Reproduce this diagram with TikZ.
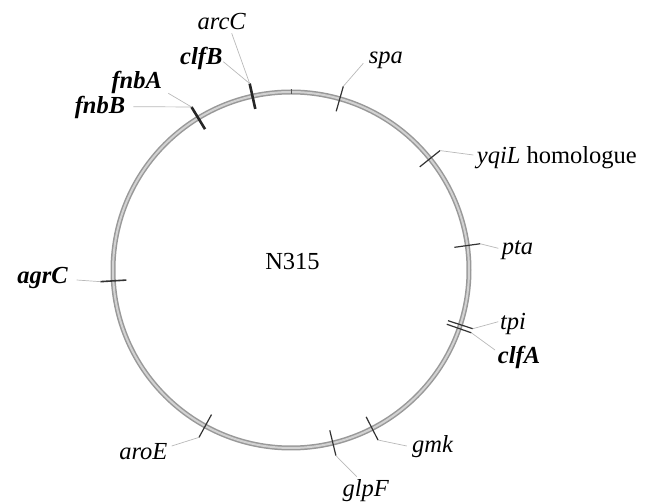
\documentclass[tikz,border=0pt]{standalone}
\usepackage{fontspec}
\setmainfont{Liberation Serif}
\begin{document}
\begin{tikzpicture}[x=1pt,y=1pt,
  lbl/.style={inner sep=0pt,anchor=base,font=\fontsize{24.5}{29}\selectfont\itshape},
  blbl/.style={lbl,font=\fontsize{24.5}{29}\selectfont\bfseries\itshape},
  leader/.style={draw=gray!55,line width=0.7pt},
  thintick/.style={draw=black!80,line width=1.2pt},
  boldtick/.style={draw=black!85,line width=2.6pt},
  midtick/.style={draw=black!80,line width=1.6pt}]
\useasboundingbox (0,0) rectangle (649,-502);
\coordinate (C) at (291,-270);
\begin{scope}[shift={(291,-270)}]
  % ring
  \draw[line width=5pt,gray!80] (0,0) circle (178);
  \draw[line width=2pt,gray!35] (0,0) circle (178);
  % origin mark
  \draw[draw=gray!70!black,line width=0.7pt] (90:175.5) -- (90:180.5);
  % ticks: inner / outer ends
  \foreach \n/\a in {clfB/102.5,fnb/121.4,spa/74.1,yqiL/38.7,pta/7.9,tpi/-17.9,clfA/-19.2,agrC/183.5,aroE/241.2,glpF/283.6,gmk/297.1}{
    \coordinate (i-\n) at (\a:165);
    \coordinate (o-\n) at (\a:191);
  }
  \draw[boldtick] (i-clfB) -- (o-clfB);
  \draw[boldtick] (i-fnb) -- (o-fnb);
  \draw[thintick] (i-spa) -- (o-spa);
  \draw[thintick] (i-yqiL) -- (o-yqiL);
  \draw[thintick] (i-pta) -- (o-pta);
  \draw[thintick] (i-tpi) -- (o-tpi);
  \draw[thintick] (i-clfA) -- (o-clfA);
  \draw[midtick] (i-agrC) -- (o-agrC);
  \draw[thintick] (i-aroE) -- (o-aroE);
  \draw[thintick] (i-glpF) -- (o-glpF);
  \draw[thintick] (i-gmk) -- (o-gmk);
\end{scope}
% leader ends
\coordinate (e-arcC) at (231.7,-33.3);
\coordinate (e-clfB) at (223.3,-61.7);
\coordinate (e-fnbA) at (168.3,-93.3);
\coordinate (e-fnbB) at (133.3,-106.7);
\coordinate (e-spa) at (363.3,-63.3);
\coordinate (e-yqiL) at (473.3,-155);
\coordinate (e-pta) at (498.3,-248.3);
\coordinate (e-tpi) at (498.3,-321.7);
\coordinate (e-clfA) at (495,-350);
\coordinate (e-agrC) at (76.7,-280);
\coordinate (e-aroE) at (171.7,-446);
\coordinate (e-glpF) at (356.7,-476.7);
\coordinate (e-gmk) at (406.7,-446);
% leaders
\draw[leader] (o-clfB) -- (e-arcC);
\draw[leader] (o-clfB) -- (e-clfB);
\draw[leader] (o-fnb) -- (e-fnbA);
\draw[leader] (o-fnb) -- (e-fnbB);
\draw[leader] (o-spa) -- (e-spa);
\draw[leader] (o-yqiL) -- (e-yqiL);
\draw[leader] (o-pta) -- (e-pta);
\draw[leader] (o-tpi) -- (e-tpi);
\draw[leader] (o-clfA) -- (e-clfA);
\draw[leader] (o-agrC) -- (e-agrC);
\draw[leader] (o-aroE) -- (e-aroE);
\draw[leader] (o-glpF) -- (e-glpF);
\draw[leader] (o-gmk) -- (e-gmk);
% labels
\node[lbl] (arcC) at (221.7,-30) {arcC};
\node[blbl] (clfB) at (201.3,-65) {clfB};
\node[blbl] (fnbA) at (136.7,-88.3) {fnbA};
\node[blbl] (fnbB) at (100,-113.3) {fnbB};
\node[lbl] (spa) at (385.8,-63.3) {spa};
\node[lbl,anchor=base west] (yqiL) at (476.7,-163.3) {yqiL\upshape\ homologue};
\node[lbl] (pta) at (517.5,-255) {pta};
\node[lbl] (tpi) at (513,-329.3) {tpi};
\node[blbl] (clfA) at (519,-363.3) {clfA};
\node[blbl] (agrC) at (42.5,-284) {agrC};
\node[lbl] (aroE) at (143.3,-459.3) {aroE};
\node[lbl] (glpF) at (365.8,-497) {glpF};
\node[lbl] (gmk) at (432.5,-453) {gmk};
\node[lbl,font=\fontsize{24.5}{29}\selectfont\upshape] (N315) at (292.5,-269.3) {N315};
\end{tikzpicture}
\end{document}
